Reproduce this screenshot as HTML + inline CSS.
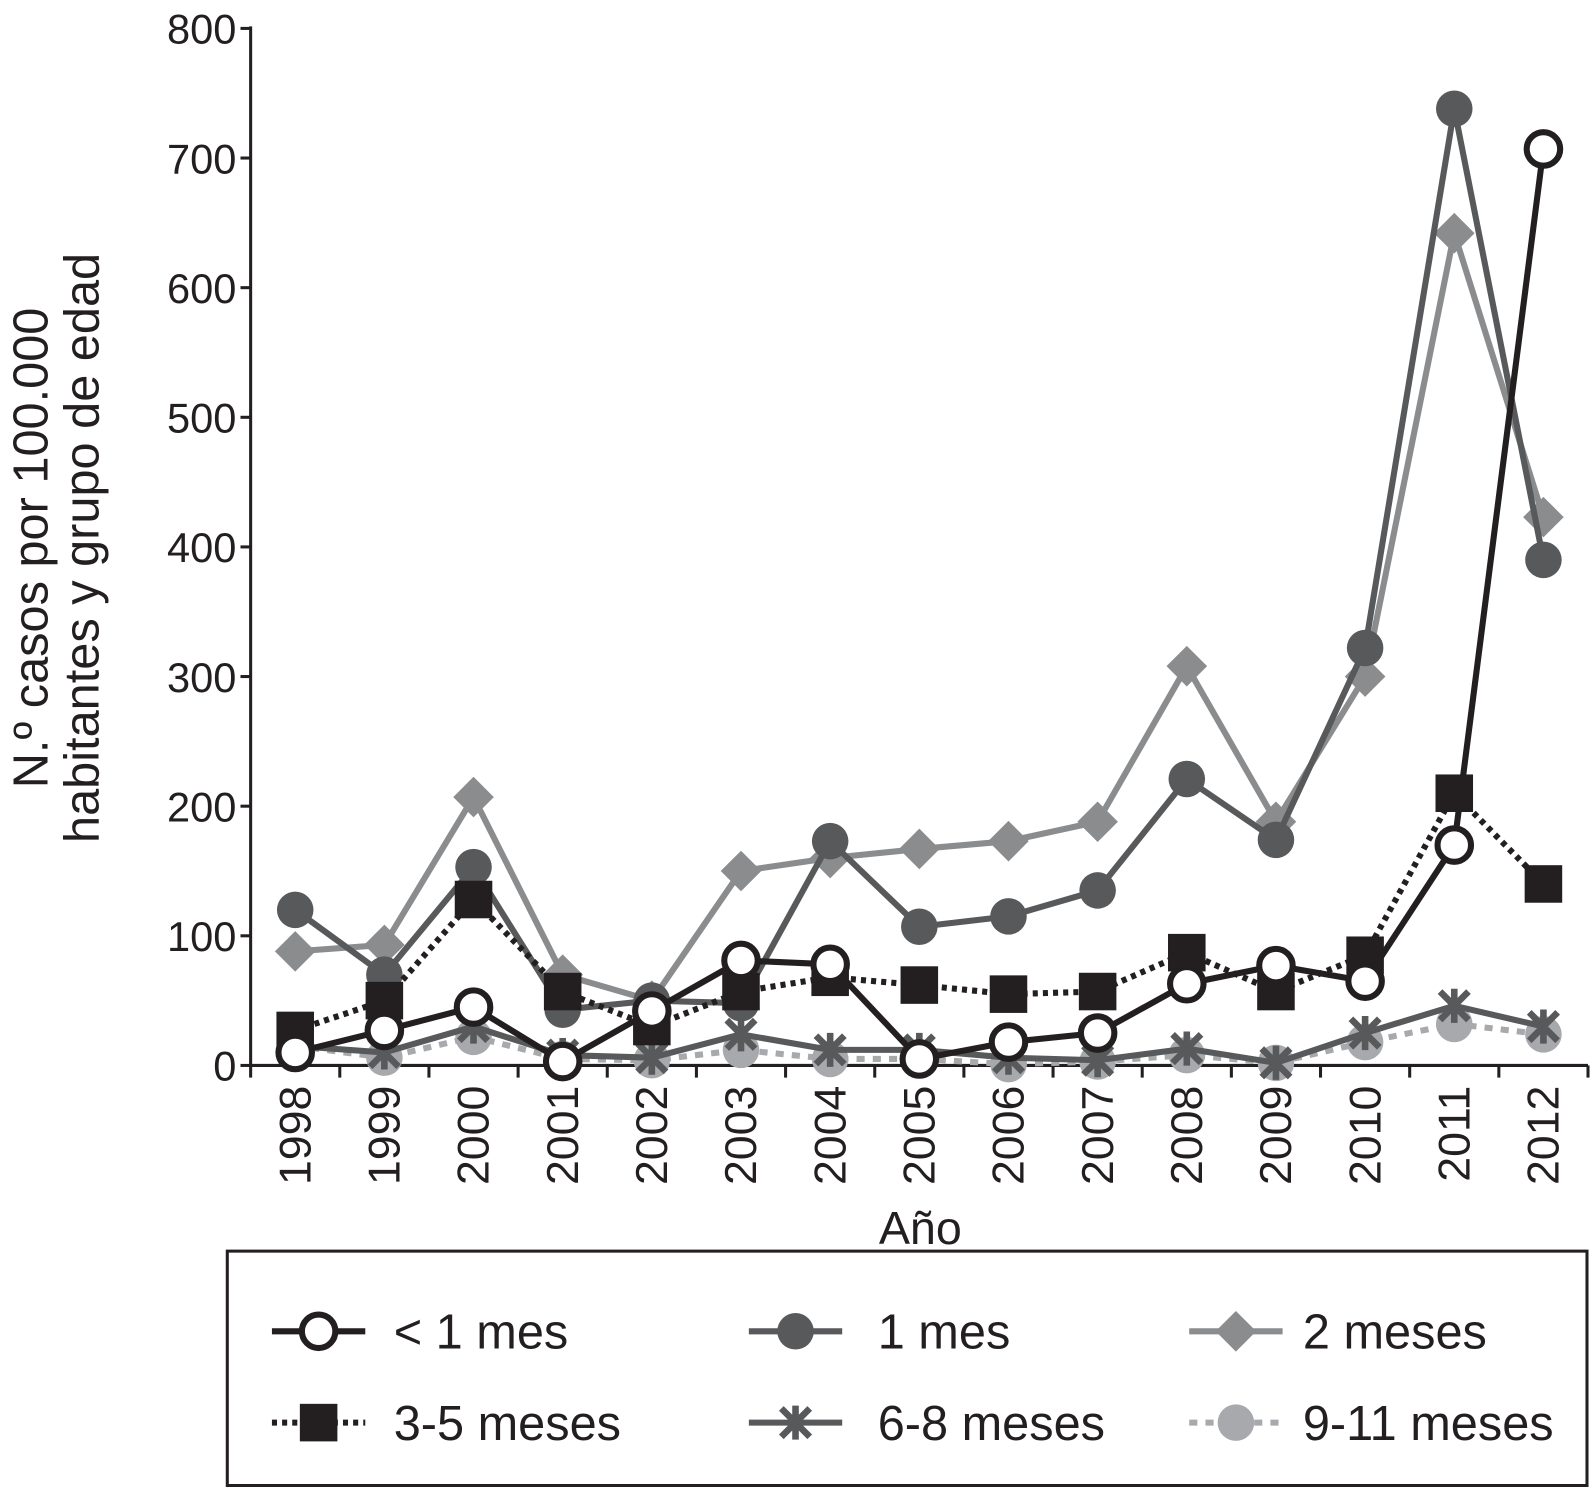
<!DOCTYPE html>
<html><head><meta charset="utf-8"><style>
html,body{margin:0;padding:0;background:#fff}
svg{display:block;font-family:"Liberation Sans",sans-serif}
</style></head><body>
<svg id="chart" width="1591" height="1487" viewBox="0 0 1591 1487" xmlns="http://www.w3.org/2000/svg">
<g transform="scale(1.0147)">
<g id="axes"></g><g id="series"></g>
<text x="907" y="1226" font-size="46" text-anchor="middle" fill="#231f20">Año</text>
<g font-size="48" fill="#231f20" text-anchor="middle">
<text transform="translate(47,540) rotate(-90)">N.º casos por 100.000</text>
<text transform="translate(97,540) rotate(-90)">habitantes y grupo de edad</text>
</g>
<rect x="224" y="1233" width="1340" height="231" fill="none" stroke="#231f20" stroke-width="3"/>
<g id="legend"></g>
</g>
</svg>
<script>
const years=["1998","1999","2000","2001","2002","2003","2004","2005","2006","2007","2008","2009","2010","2011","2012"];
const yTicks=[0,100,200,300,400,500,600,700,800];
const sLess1=[10,27,45,3,42,81,78,5,18,25,63,77,65,170,707];
const s1=[120,70,153,43,50,48,173,107,115,135,221,174,322,738,390];
const s2=[88,93,207,70,50,150,160,167,173,188,308,188,300,642,423];
const s35=[27,50,128,57,30,57,68,62,55,57,87,57,85,210,140];
const s68=[15,10,30,8,6,24,12,12,6,4,13,2,25,46,30];
const s911=[15,6,22,5,4,12,5,5,1,3,8,2,18,32,24];
const seriesNames=["< 1 mes","1 mes","2 meses","3-5 meses","6-8 meses","9-11 meses"];

const NS="http://www.w3.org/2000/svg";
const X0=247,X1=1565,Y0=1050,Y1=28;
const bw=(X1-X0)/years.length;
const x=i=>X0+bw*(i+0.5);
const y=v=>Y0-(v/800)*(Y0-Y1);
function el(t,a,p){const e=document.createElementNS(NS,t);for(const k in a)e.setAttribute(k,a[k]);p.appendChild(e);return e;}
const axes=document.getElementById('axes');
const ya=el('line',{x1:X0,y1:Y1-2,x2:X0,y2:Y0,stroke:'#231f20','stroke-width':3},axes);


const xa=el('line',{x1:X0,y1:Y0,x2:X1,y2:Y0,stroke:'#231f20','stroke-width':3},axes);


yTicks.forEach(v=>{
 el('line',{x1:X0-10,y1:y(v),x2:X0,y2:y(v),stroke:'#231f20','stroke-width':3},axes);
 const t=el('text',{x:X0-14,y:y(v)+15,'font-size':41,'text-anchor':'end',fill:'#231f20'},axes);
 t.textContent=v;
 
 
});
for(let i=0;i<=years.length;i++){el('line',{x1:X0+bw*i,y1:Y0,x2:X0+bw*i,y2:Y0+12,stroke:'#231f20','stroke-width':3},axes);}
years.forEach((yr,i)=>{
 const t=el('text',{transform:`translate(${x(i)+15},${Y0+20}) rotate(-90)`,'font-size':44,'text-anchor':'end',fill:'#231f20'},axes);
 t.textContent=yr;
 
 
});
function marker(type,cx,cy,col,g,sc){
 sc=sc||1;
 if(type==='open'){el('circle',{cx,cy,r:16.5*sc,fill:'#fff',stroke:col,'stroke-width':6},g);}
 else if(type==='dot'){el('circle',{cx,cy,r:18*sc,fill:col},g);}
 else if(type==='diamond'){const s=20*sc;el('polygon',{points:`${cx},${cy-s} ${cx+s},${cy} ${cx},${cy+s} ${cx-s},${cy}`,fill:col},g);}
 else if(type==='square'){const s=18.5*sc;el('rect',{x:cx-s,y:cy-s,width:2*s,height:2*s,fill:col},g);}
 else if(type==='star'){const s=14*sc;el('path',{d:`M${cx-s},${cy-s}L${cx+s},${cy+s}M${cx+s},${cy-s}L${cx-s},${cy+s}M${cx},${cy-s*1.2}L${cx},${cy+s*1.2}`,stroke:col,'stroke-width':6.5,fill:'none'},g);}
}
const defs=[
 {d:s911,col:'#a7a9ac',dash:'8 8',m:'dot',name:'series-9-11-meses'},
 {d:s68,col:'#58595b',dash:null,m:'star',name:'series-6-8-meses'},
 {d:s2,col:'#8a8c8e',dash:null,m:'diamond',name:'series-2-meses'},
 {d:s1,col:'#58595b',dash:null,m:'dot',name:'series-1-mes'},
 {d:s35,col:'#231f20',dash:'5 5',m:'square',name:'series-3-5-meses'},
 {d:sLess1,col:'#231f20',dash:null,m:'open',name:'series-less-1-mes'}
];
const sg=document.getElementById('series');
defs.forEach(s=>{
 const g=el('g',{},sg);
 
 
 const pts=s.d.map((v,i)=>x(i)+','+y(v)).join(' ');
 const a={points:pts,fill:'none',stroke:s.col,'stroke-width':6,'stroke-linejoin':'round'};
 if(s.dash)a['stroke-dasharray']=s.dash;
 el('polyline',a,g);
 s.d.forEach((v,i)=>marker(s.m,x(i),y(v),s.col,g));
});
const lg=document.getElementById('legend');
const leg=[
 {m:'open',col:'#231f20',dash:null,lx:268,ly:1312,tx:388},
 {m:'dot',col:'#58595b',dash:null,lx:738,ly:1312,tx:865},
 {m:'diamond',col:'#8a8c8e',dash:null,lx:1172,ly:1312,tx:1284},
 {m:'square',col:'#231f20',dash:'5 5',lx:268,ly:1402,tx:388},
 {m:'star',col:'#58595b',dash:null,lx:738,ly:1402,tx:865},
 {m:'dot',col:'#a7a9ac',dash:'8 8',lx:1172,ly:1402,tx:1284}
];
leg.forEach((L,i)=>{
 const g=el('g',{},lg);
 
 
 const a={x1:L.lx,y1:L.ly,x2:L.lx+92,y2:L.ly,stroke:L.col,'stroke-width':6};
 if(L.dash)a['stroke-dasharray']=L.dash;
 el('line',a,g);
 marker(L.m,L.lx+46,L.ly,L.col,g,1.0);
 const t=el('text',{x:L.tx,y:L.ly+17,'font-size':48,fill:'#231f20'},g);
 t.textContent=seriesNames[i];
});
</script>
</body></html>
